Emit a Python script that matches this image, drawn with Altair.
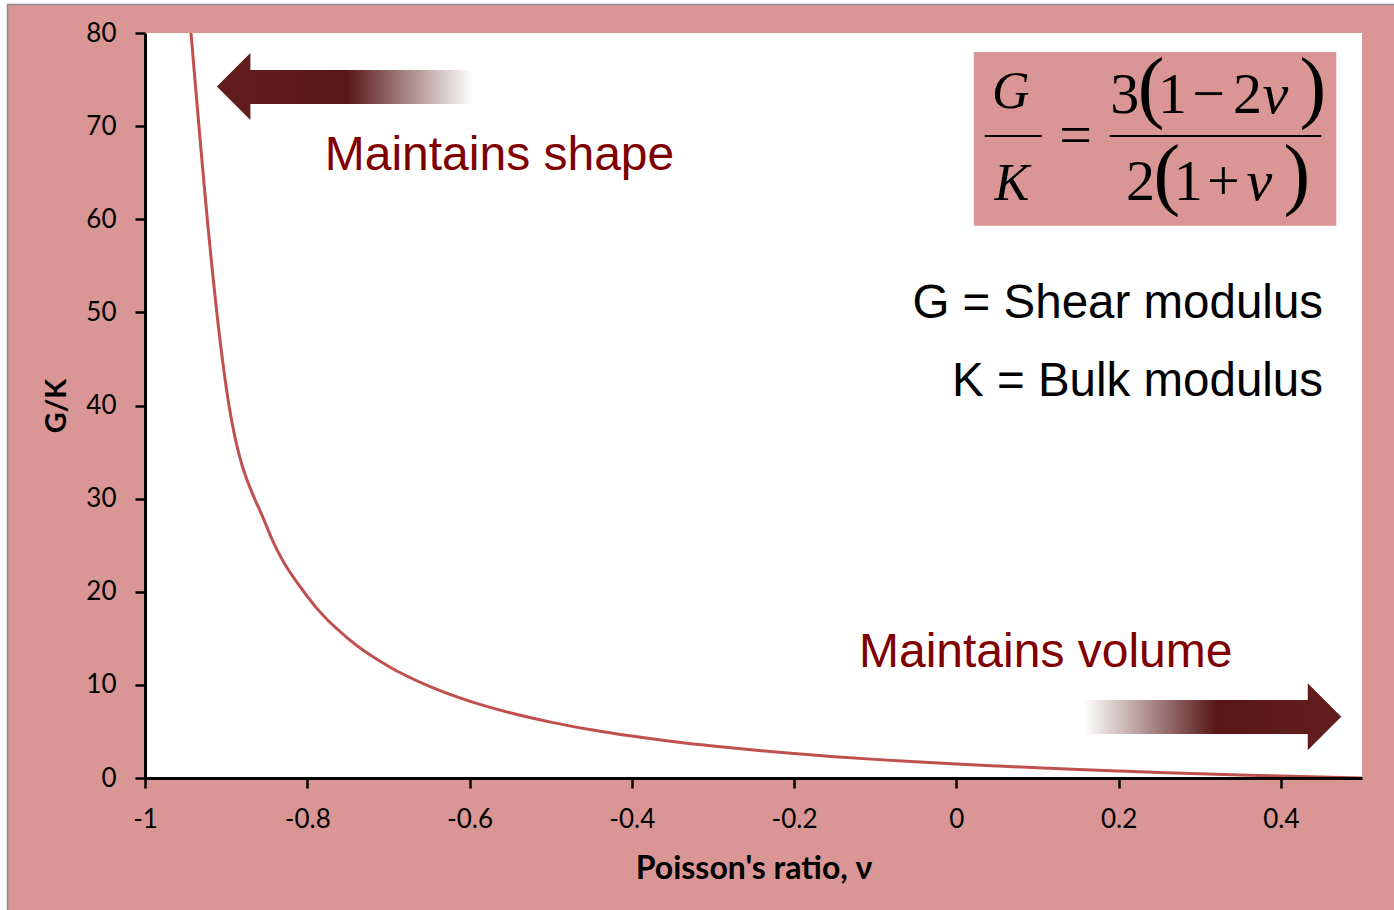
import altair as alt
import pandas as pd

# ---- data -------------------------------------------------------------
# Poisson's ratio samples and the G/K ratio
nu = [-0.95, -0.90, -0.85, -0.80, -0.75, -0.70, -0.65, -0.60, -0.55, -0.50,
      -0.45, -0.40, -0.35, -0.30, -0.25, -0.20, -0.15, -0.10, -0.05, 0.00,
      0.05, 0.10, 0.15, 0.20, 0.25, 0.30, 0.35, 0.40, 0.45, 0.50]
g_over_k = [87.0, 42.0, 27.0, 19.5, 15.0, 12.0, 9.86, 8.25, 7.0, 6.0,
            5.18, 4.5, 3.92, 3.43, 3.0, 2.63, 2.29, 2.0, 1.74, 1.5,
            1.29, 1.09, 0.91, 0.75, 0.6, 0.46, 0.33, 0.21, 0.10, 0.0]

x_ticks = [-1, -0.8, -0.6, -0.4, -0.2, 0, 0.2, 0.4]
y_ticks = [0, 10, 20, 30, 40, 50, 60, 70, 80]

x_title = "Poisson's ratio, ν"
y_title = "G/K"
note_shape = "Maintains shape"
note_volume = "Maintains volume"
legend_g = "G = Shear modulus"
legend_k = "K = Bulk modulus"

# ---- styling ----------------------------------------------------------
PINK = "#D99694"
CURVE = "#C0504D"
DARK = "#611D1D"
NOTE_RED = "#800000"
PLOT_W, PLOT_H = 1217, 745

xs = alt.Scale(domain=[-1, 0.5], nice=False, zero=False)
ys = alt.Scale(domain=[0, 80], nice=False, zero=True)

axis_common = dict(
    zindex=1, grid=False, labelFlush=False,
    domainColor="black", domainWidth=3,
    tickColor="black", tickWidth=2.5, tickSize=10,
    labelFont="Lato", labelFontSize=26, labelColor="black",
    titleFont="Lato", titleFontWeight="bold", titleColor="black",
)
x_axis = alt.Axis(values=x_ticks, labelExpr="'' + datum.value", title=x_title,
                  labelPadding=18, titlePadding=21, titleFontSize=32,
                  **axis_common)
y_axis = alt.Axis(values=y_ticks, title=y_title, labelPadding=19,
                  titlePadding=14, titleFontSize=29, **axis_common)


def xe():
    return alt.X("nu:Q", scale=xs, axis=x_axis)


def ye():
    return alt.Y("gk:Q", scale=ys, axis=y_axis)


one = pd.DataFrame({"k": [0]})

# pink card with a thin grey edge, and the white plotting area on it
frame = alt.Chart(one).mark_rect(fill=PINK, stroke="#8c8c8c", strokeWidth=1.5).encode(
    x=alt.value(-137.5), x2=alt.value(PLOT_W + 60),
    y=alt.value(-28.5), y2=alt.value(PLOT_H + 160),
)
plot_bg = alt.Chart(one).mark_rect(fill="white").encode(
    x=alt.value(0), x2=alt.value(PLOT_W), y=alt.value(0), y2=alt.value(PLOT_H),
)

# ---- curve ------------------------------------------------------------
curve_df = pd.DataFrame({"nu": nu, "gk": g_over_k})
curve = alt.Chart(curve_df).mark_line(
    color=CURVE, strokeWidth=3, clip=True, interpolate="monotone"
).encode(x=xe(), y=ye())

# ---- arrows with a fading tail ------------------------------------------
left_fade = alt.LinearGradient(
    gradient="linear", x1=0, x2=1, y1=0, y2=0,
    stops=[alt.GradientStop(offset=0, color=DARK),
           alt.GradientStop(offset=0.44, color="#581818"),
           alt.GradientStop(offset=1, color="#ffffff")],
)
right_fade = alt.LinearGradient(
    gradient="linear", x1=0, x2=1, y1=0, y2=0,
    stops=[alt.GradientStop(offset=0, color="#ffffff"),
           alt.GradientStop(offset=0.58, color="#581818"),
           alt.GradientStop(offset=1, color=DARK)],
)
shaft_left = alt.Chart(pd.DataFrame({"nu": [-0.873], "nu2": [-0.5963],
                                     "gk": [76.03], "gk2": [72.38]})).mark_rect(
    fill=left_fade, strokeWidth=0).encode(
    x=xe(), x2="nu2:Q", y=ye(), y2="gk2:Q")
shaft_right = alt.Chart(pd.DataFrame({"nu": [0.1569], "nu2": [0.4375],
                                      "gk": [8.376], "gk2": [4.725]})).mark_rect(
    fill=right_fade, strokeWidth=0).encode(
    x=xe(), x2="nu2:Q", y=ye(), y2="gk2:Q")

head_left = alt.Chart(pd.DataFrame({"nu": [-0.8908], "gk": [74.25]})).mark_point(
    shape="M -0.5 0 L 0.5 -1 L 0.5 1 Z", size=4489, filled=True,
    color=DARK, opacity=1, strokeWidth=0).encode(x=xe(), y=ye())
head_right = alt.Chart(pd.DataFrame({"nu": [0.4538], "gk": [6.58]})).mark_point(
    shape="M 0.5 0 L -0.5 -1 L -0.5 1 Z", size=4489, filled=True,
    color=DARK, opacity=1, strokeWidth=0).encode(x=xe(), y=ye())

# ---- notes --------------------------------------------------------------
red_notes = alt.Chart(pd.DataFrame({
    "nu": [-0.7785, -0.12], "gk": [65.29, 11.92], "t": [note_shape, note_volume]
})).mark_text(align="left", baseline="alphabetic", font="Liberation Sans",
              fontSize=48, color=NOTE_RED).encode(x=xe(), y=ye(), text="t:N")
black_notes = alt.Chart(pd.DataFrame({
    "nu": [0.4520, 0.4520], "gk": [49.40, 41.02], "t": [legend_g, legend_k]
})).mark_text(align="right", baseline="alphabetic", font="Liberation Sans",
              fontSize=47.5, color="black").encode(x=xe(), y=ye(), text="t:N")

# ---- formula G/K = 3(1-2v) / 2(1+v) on a pink card -------------------------
formula_card = alt.Chart(pd.DataFrame({"nu": [0.0215], "nu2": [0.4683],
                                       "gk": [77.96], "gk2": [59.31]})).mark_rect(
    fill=PINK, strokeWidth=0).encode(x=xe(), x2="nu2:Q", y=ye(), y2="gk2:Q")

upright = pd.DataFrame([
    ("3", 0.2075, 71.4, 58), ("(", 0.2400, 71.4, 80), ("1", 0.2665, 71.4, 58),
    ("\u2212", 0.3108, 71.4, 58), ("2", 0.3588, 71.4, 58), (")", 0.4395, 71.4, 80),
    ("2", 0.2270, 62.07, 58), ("(", 0.2595, 62.07, 80), ("1", 0.2860, 62.07, 58),
    ("+", 0.3290, 62.07, 58), (")", 0.4195, 62.07, 80),
    ("=", 0.1471, 67.0, 58),
], columns=["t", "nu", "gk", "fs"])
slanted = pd.DataFrame([
    ("G", 0.0671, 71.95, 52), ("K", 0.0683, 62.07, 52),
    ("ν", 0.3932, 71.4, 58), ("ν", 0.3735, 62.07, 58),
], columns=["t", "nu", "gk", "fs"])

glyphs_up = alt.Chart(upright).mark_text(
    align="center", baseline="alphabetic", font="Liberation Serif", color="black"
).encode(x=xe(), y=ye(), text="t:N", size=alt.Size("fs:Q", scale=None, legend=None))
glyphs_it = alt.Chart(slanted).mark_text(
    align="center", baseline="alphabetic", font="Liberation Serif",
    fontStyle="italic", color="black"
).encode(x=xe(), y=ye(), text="t:N", size=alt.Size("fs:Q", scale=None, legend=None))
fraction_bars = alt.Chart(pd.DataFrame({
    "nu": [0.0351, 0.1889], "nu2": [0.1052, 0.4498], "gk": [68.94, 68.94]
})).mark_rule(color="black", strokeWidth=2).encode(x=xe(), x2="nu2:Q", y=ye())

chart = alt.layer(
    frame, plot_bg, formula_card, curve,
    shaft_left, shaft_right, head_left, head_right,
    red_notes, black_notes, glyphs_up, glyphs_it, fraction_bars,
).properties(
    width=PLOT_W, height=PLOT_H,
    autosize=alt.AutoSizeParams(type="none"),
    padding={"left": 145, "top": 33, "right": 32, "bottom": 132},
    background="white",
).configure_view(stroke=None)

chart.save("out.html", embed_options={"renderer": "svg", "actions": False})
